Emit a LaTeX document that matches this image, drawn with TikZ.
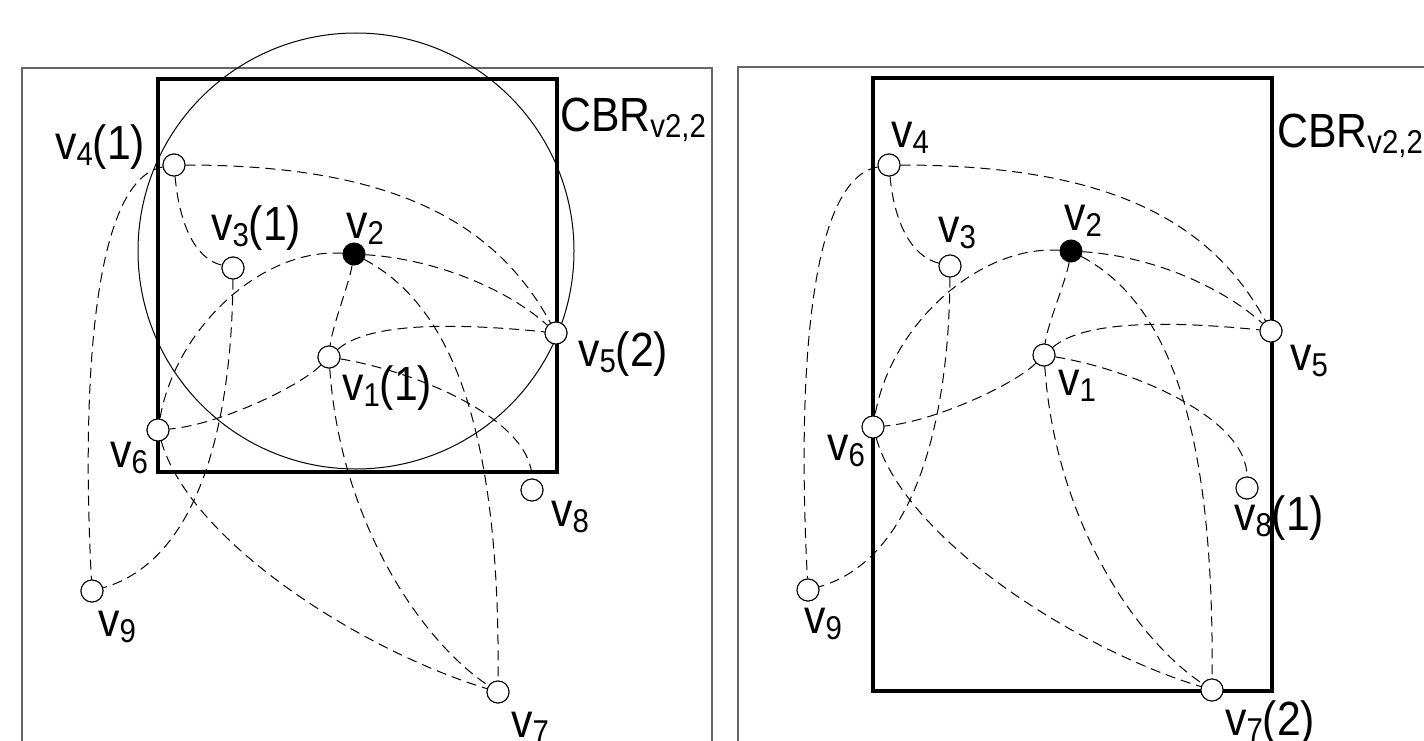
\documentclass[tikz,border=0pt]{standalone}
\usepackage{fontspec}
\setmainfont[FakeStretch=0.89]{Liberation Sans}
\newcommand\lsub[1]{\raisebox{-6bp}{\fontsize{33bp}{33bp}\selectfont #1}}
\tikzset{
  vtx/.style={circle, draw=black, fill=white, line width=1bp, minimum size=22bp, inner sep=0pt},
  vfull/.style={vtx, fill=black},
  edge/.style={draw=black, line width=1bp, dash pattern=on 10bp off 6bp},
  lab/.style={font=\fontsize{48bp}{48bp}\selectfont, inner sep=0pt, anchor=base west},
  frame/.style={draw=black!60, line width=1.5bp},
  cbr/.style={draw=black, line width=4bp},
}
\newcommand\graphedges[1]{%
  \draw[edge] (#1v4) .. controls +(220,0) and +(-60,-110) .. (#1v5);
  \draw[edge] (#1v4) .. controls +(5,55) and +(-40,-10) .. (#1v3);
  \draw[edge] (#1v4) .. controls +(-84,15) and +(-10,-191) .. (#1v9);
  \draw[edge] (#1v2) .. controls +(80,5) and +(-50,-45) .. (#1v5);
  \draw[edge] (#1v2) .. controls +(-94,-6) and +(17,-100) .. (#1v6);
  \draw[edge] (#1v2) .. controls +(-5,30) and +(3,-30) .. (#1v1);
  \draw[edge] (#1v2) .. controls +(106,56) and +(2,-242) .. (#1v7);
  \draw[edge] (#1v1) .. controls +(40,-35) and +(-100,-10) .. (#1v5);
  \draw[edge] (#1v1) .. controls +(-30,30) and +(60,-5) .. (#1v6);
  \draw[edge] (#1v1) .. controls +(90,15) and +(0,-70) .. (#1v8);
  \draw[edge] (#1v3) .. controls +(-1,152) and +(108,-31) .. (#1v9);
  \draw[edge] (#1v6) .. controls +(32,111) and +(-138,-42) .. (#1v7);
  \draw[edge] (#1v1) .. controls +(11,163) and +(-78,-52) .. (#1v7);
}
\begin{document}
\begin{tikzpicture}[x=1bp, y=-1bp]
\useasboundingbox (0,0) rectangle (1424,740);
\clip (0,0) rectangle (1424,740);
\fill[white] (0,0) rectangle (1424,740);

% ---------- left panel ----------
\draw[frame] (22,760) -- (22,68) -- (712,68) -- (712,760);
\draw[cbr] (158,79) rectangle (557,472);
\draw[line width=1bp] (356,251) circle[radius=218];

\node[vtx]   (Lv4) at (174,165) {};
\node[vtx]   (Lv3) at (233,268) {};
\node[vfull] (Lv2) at (354,254) {};
\node[vtx]   (Lv5) at (556,333) {};
\node[vtx]   (Lv1) at (329,357) {};
\node[vtx]   (Lv6) at (158,430) {};
\node[vtx]   (Lv8) at (532,490) {};
\node[vtx]   (Lv9) at (92,591) {};
\node[vtx]   (Lv7) at (498,692) {};
\graphedges{L}
\foreach \n in {Lv4,Lv3,Lv5,Lv1,Lv6,Lv8,Lv9,Lv7}{\draw[line width=1bp, fill=white] (\n) circle[radius=11];}
\fill (Lv2) circle[radius=11];

\node[lab] (Lt4) at (55,159) {v\lsub{4}(1)};
\node[lab] (Ltc) at (560,131) {CBR\lsub{v2,2}};
\node[lab] (Lt3) at (211,240) {v\lsub{3}(1)};
\node[lab] (Lt2) at (346,238) {v\lsub{2}};
\node[lab] (Lt5) at (578,366) {v\lsub{5}(2)};
\node[lab] (Lt1) at (342,400) {v\lsub{1}(1)};
\node[lab] (Lt6) at (110,467) {v\lsub{6}};
\node[lab] (Lt8) at (551,526) {v\lsub{8}};
\node[lab] (Lt9) at (98,636) {v\lsub{9}};
\node[lab] (Lt7) at (511,737) {v\lsub{7}};

% ---------- right panel ----------
\draw[frame] (738,760) -- (738,67) -- (1430,67);
\draw[cbr] (873,78) rectangle (1272,691);

\node[vtx]   (Rv4) at (889,165) {};
\node[vtx]   (Rv3) at (950,266) {};
\node[vfull] (Rv2) at (1071,251) {};
\node[vtx]   (Rv5) at (1271,331) {};
\node[vtx]   (Rv1) at (1044,355) {};
\node[vtx]   (Rv6) at (873,427) {};
\node[vtx]   (Rv8) at (1247,488) {};
\node[vtx]   (Rv9) at (808,590) {};
\node[vtx]   (Rv7) at (1212,690) {};
\graphedges{R}
\foreach \n in {Rv4,Rv3,Rv5,Rv1,Rv6,Rv8,Rv9,Rv7}{\draw[line width=1bp, fill=white] (\n) circle[radius=11];}
\fill (Rv2) circle[radius=11];

\node[lab] (Rt4) at (891,147) {v\lsub{4}};
\node[lab] (Rtc) at (1277,147) {CBR\lsub{v2,2}};
\node[lab] (Rt3) at (938,242) {v\lsub{3}};
\node[lab] (Rt2) at (1064,230) {v\lsub{2}};
\node[lab] (Rt5) at (1290,370) {v\lsub{5}};
\node[lab] (Rt1) at (1058,395) {v\lsub{1}};
\node[lab] (Rt6) at (827,460) {v\lsub{6}};
\node[lab] (Rt8) at (1234,530) {v\lsub{8}(1)};
\node[lab] (Rt9) at (804,633) {v\lsub{9}};
\node[lab] (Rt7) at (1225,735) {v\lsub{7}(2)};
\end{tikzpicture}
\end{document}
